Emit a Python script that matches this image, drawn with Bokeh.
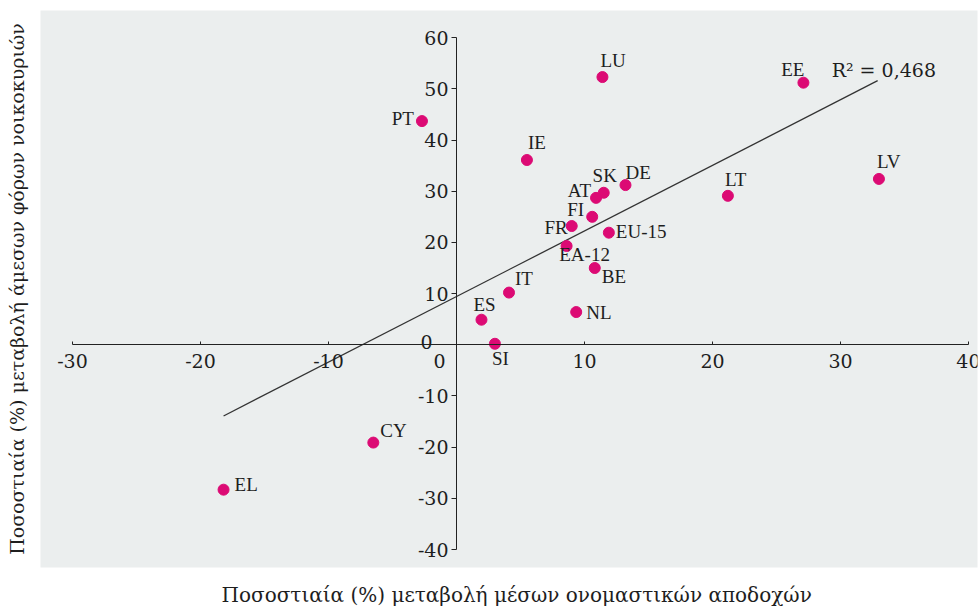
from bokeh.plotting import figure
from bokeh.models import (ColumnDataSource, LabelSet, Label, LinearAxis, FixedTicker, Range1d,
                          Title)
from bokeh.embed import file_html
from bokeh.resources import INLINE

# ---- data ----
countries = ["LU", "EE", "PT", "IE", "LV", "DE", "SK", "AT", "LT", "FI",
             "FR", "EU-15", "EA-12", "BE", "IT", "ES", "NL", "SI", "CY", "EL"]
wage_change = [11.4, 27.1, -2.7, 5.5, 33.0, 13.2, 11.5, 10.9, 21.2, 10.6,
               9.0, 11.9, 8.6, 10.8, 4.1, 1.95, 9.35, 3.0, -6.5, -18.2]
tax_change = [52.3, 51.2, 43.7, 36.1, 32.4, 31.2, 29.7, 28.7, 29.1, 25.0,
              23.2, 21.9, 19.3, 15.0, 10.2, 4.9, 6.4, 0.2, -19.1, -28.3]
trend_x = [-18.2, 32.9]
trend_y = [-13.9, 51.6]
r2_text = "R\u00b2 = 0,468"
x_ticks = [-30, -20, -10, 0, 10, 20, 30, 40]
y_ticks = [-40, -30, -20, -10, 0, 10, 20, 30, 40, 50, 60]
x_title = "Ποσοστιαία (%) μεταβολή μέσων ονομαστικών αποδοχών"
y_title = "Ποσοστιαία (%) μεταβολή άμεσων φόρων νοικοκυριών"

# label placement (style only): alignment and pixel offsets
lab_align = ["left", "right", "right", "left", "left", "left", "center", "right", "left", "right",
             "right", "left", "center", "left", "left", "center", "left", "left", "left", "left"]
lab_dx = [-2, 1, -8, 1, -2, 0, 1, -5, -3, -8, -4, 7, 18, 7, 6, 3, 10, -3, 7, 11]
lab_dy = [17, 13, 3, 17, 17, 13, 17, 7, 16, 7, -1, 1, -9, -8, 14, 15, 0, -15, 12, 5]

FONT = "DejaVu Serif"
TXT = "#1e1e1e"
FS = "19px"

def tick_text(v):
    return "-%d" % abs(v) if v < 0 else "%d" % v

p = figure(width=980, height=609, output_backend="svg", toolbar_location=None,
           x_range=Range1d(-32.5, 40.7), y_range=Range1d(-43.5, 65.3),
           x_axis_location=None, y_axis_location=None,
           min_border_left=40, min_border_right=3, min_border_top=10, min_border_bottom=42)
p.background_fill_color = "#ebeeee"
p.border_fill_color = "white"
p.outline_line_color = None
p.xgrid.visible = False
p.ygrid.visible = False

x_over = {t: tick_text(t) for t in x_ticks}
x_over[0] = ""
xa = LinearAxis(fixed_location=0, bounds=(-30, 40), ticker=FixedTicker(ticks=x_ticks),
                major_label_overrides=x_over)
xa.major_tick_in = 3
xa.major_tick_out = 0
xa.minor_tick_line_color = None
xa.major_label_standoff = 9
xa.axis_line_color = "#222222"
xa.major_tick_line_color = "#222222"
xa.major_label_text_font = FONT
xa.major_label_text_font_size = FS
xa.major_label_text_color = TXT
p.add_layout(xa, "below")

y_over = {t: tick_text(t) for t in y_ticks}
y_over[0] = ""
ya = LinearAxis(fixed_location=0, bounds=(-40, 60), ticker=FixedTicker(ticks=y_ticks),
                major_label_overrides=y_over)
ya.major_tick_in = 0
ya.major_tick_out = 5
ya.minor_tick_line_color = None
ya.major_label_standoff = 3
ya.axis_line_color = "#222222"
ya.major_tick_line_color = "#222222"
ya.major_label_text_font = FONT
ya.major_label_text_font_size = FS
ya.major_label_text_color = TXT
p.add_layout(ya, "left")

# zero labels placed as in the original
p.add_layout(Label(x=0, y=0, text="0", x_offset=-30, y_offset=3, text_align="center",
                   text_baseline="middle", text_font=FONT, text_font_size=FS,
                   text_color=TXT))
p.add_layout(Label(x=0, y=0, text="0", x_offset=-17, y_offset=-16, text_align="center",
                   text_baseline="middle", text_font=FONT, text_font_size=FS,
                   text_color=TXT))

# trend line
p.line(trend_x, trend_y, line_color="#333333", line_width=1.3)
p.add_layout(Label(x=trend_x[1], y=trend_y[1], text=r2_text, x_offset=-46, y_offset=11,
                   text_align="left", text_baseline="middle", text_font=FONT,
                   text_font_size=FS, text_color=TXT))

src = ColumnDataSource(dict(x=wage_change, y=tax_change, name=countries,
                            align=lab_align, dx=lab_dx, dy=lab_dy))
p.scatter("x", "y", source=src, size=11, fill_color="#dc0a74", line_color="#dc0a74")

labels = LabelSet(x="x", y="y", text="name", source=src, x_offset="dx", y_offset="dy",
                  text_align="align", text_baseline="middle", text_font=FONT,
                  text_font_size=FS, text_color=TXT)
p.add_layout(labels)

# axis titles in the side panels (a small blank title acts as spacing)
p.add_layout(Title(text=" ", standoff=2, text_font_size="8px"), "below")
p.add_layout(Title(text=x_title, align="left", offset=181, vertical_align="bottom",
                   standoff=0, text_font=FONT, text_font_size="20px",
                   text_font_style="normal", text_color=TXT), "below")
p.add_layout(Title(text=" ", standoff=2, text_font_size="7px"), "left")
p.add_layout(Title(text=y_title, align="center", vertical_align="top", standoff=0,
                   text_font=FONT, text_font_size="19px", text_font_style="normal",
                   text_color=TXT), "left")

open("out.html", "w").write(file_html(p, INLINE))
